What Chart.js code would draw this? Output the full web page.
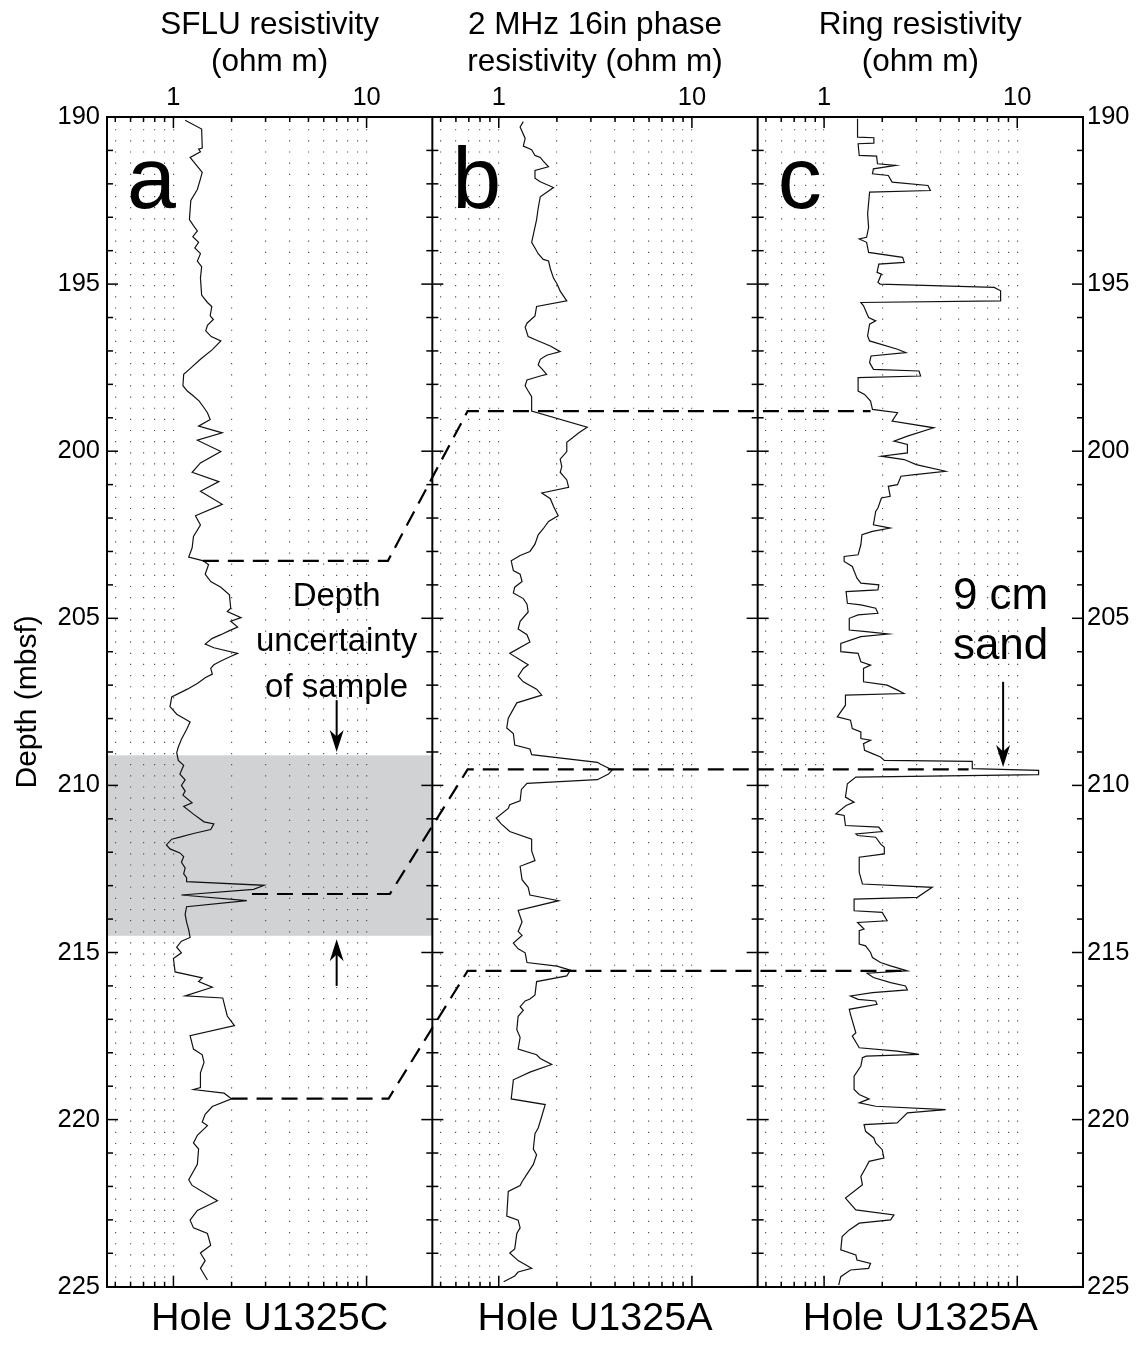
<!DOCTYPE html>
<html>
<head>
<meta charset="utf-8">
<script src="https://cdn.jsdelivr.net/npm/chart.js@4.4.1/dist/chart.umd.min.js"></script>
<style>
  html, body { margin: 0; padding: 0; background: #fff; }
  #wrap { position: relative; width: 1139px; height: 1346px; }
</style>
</head>
<body>
<div id="wrap"><canvas id="logChart" width="1139" height="1346"></canvas></div>
<script>
// Panel a: SFLU resistivity, Hole U1325C (depth mbsf / ohm m)
const aDepth = [190.10,190.36,190.93,190.96,191.04,191.21,191.66,191.85,192.17,192.50,193.07,193.25,193.41,193.58,193.75,193.92,194.09,194.31,194.48,194.82,
  195.33,195.55,195.67,195.95,196.06,196.23,196.40,196.57,196.70,196.96,197.25,197.53,197.70,198.04,198.20,198.35,198.50,198.70,198.85,199.05,
  199.25,199.45,199.67,200.01,200.35,200.63,200.91,201.20,201.59,201.93,202.21,202.55,202.89,203.17,203.28,203.40,203.68,203.90,204.07,204.30,
  204.70,204.80,204.98,205.09,205.26,205.37,205.49,205.60,205.77,205.88,206.05,206.16,206.28,206.39,206.50,206.67,206.78,206.95,207.12,207.35,
  207.64,207.87,207.99,208.10,208.33,208.62,208.85,209.02,209.25,209.40,209.66,209.83,210.00,210.17,210.29,210.52,210.63,210.86,211.09,211.15,
  211.32,211.44,211.55,211.61,211.78,211.90,212.02,212.13,212.30,212.47,212.65,212.76,212.88,212.99,213.11,213.28,213.45,213.63,213.86,214.09,
  214.32,214.55,214.66,214.84,215.01,215.18,215.58,215.76,215.87,216.04,216.30,216.36,216.90,217.19,217.49,217.89,218.06,218.29,218.60,219.04,
  219.10,219.21,219.38,219.61,219.84,220.07,220.18,220.47,220.70,220.88,221.34,221.80,221.97,222.43,222.72,223.01,223.24,223.41,223.76,223.99,
  224.22,224.45,224.80];
const aRes = [1.15,1.40,1.41,1.35,1.38,1.22,1.41,1.38,1.33,1.23,1.21,1.27,1.33,1.26,1.35,1.29,1.38,1.33,1.40,1.38,
  1.40,1.50,1.58,1.55,1.61,1.50,1.47,1.57,1.76,1.59,1.38,1.22,1.13,1.12,1.18,1.27,1.36,1.44,1.50,1.55,
  1.35,1.79,1.33,1.76,1.38,1.25,1.72,1.38,1.79,1.30,1.38,1.27,1.25,1.20,1.43,1.52,1.46,1.56,1.76,1.95,
  1.98,1.90,2.24,1.98,2.15,1.95,1.76,1.59,1.46,1.62,2.15,1.95,1.76,1.62,1.56,1.59,1.46,1.33,1.18,0.98,
  0.96,1.04,1.13,1.22,1.17,1.10,1.06,1.04,1.06,1.13,1.08,1.15,1.10,1.15,1.12,1.25,1.13,1.27,1.44,1.62,
  1.56,1.27,1.08,0.98,0.92,0.96,1.08,1.13,1.10,1.15,1.13,1.17,1.17,2.95,2.60,1.10,2.40,1.17,1.15,1.17,
  1.20,1.22,1.10,1.04,1.10,1.00,1.02,1.41,1.35,1.59,1.15,1.80,1.90,2.07,1.22,1.27,1.41,1.44,1.38,1.38,
  1.27,1.83,2.00,1.59,1.46,1.41,1.50,1.33,1.27,1.35,1.33,1.20,1.25,1.69,1.33,1.22,1.27,1.50,1.56,1.38,
  1.46,1.38,1.50];

// Panel b: 2 MHz 16in phase resistivity, Hole U1325A
const bDepth = [190.14,190.30,190.64,190.87,190.98,191.15,191.21,191.32,191.49,191.60,191.83,191.94,192.11,192.39,192.73,193.07,193.75,193.92,194.09,194.26,
  194.31,194.54,194.82,194.99,195.21,195.50,195.67,195.95,196.17,196.29,196.57,196.68,196.85,197.02,197.13,197.25,197.42,197.58,197.70,197.75,
  197.87,198.04,198.20,198.37,198.80,199.28,199.45,199.73,200.01,200.24,200.46,200.63,200.86,201.08,201.25,201.42,201.65,201.93,202.10,202.32,
  202.50,202.78,203.00,203.12,203.28,203.57,203.68,203.90,204.07,204.24,204.41,204.58,204.81,205.09,205.32,205.49,205.71,206.05,206.28,206.39,
  206.50,206.73,206.90,207.12,207.30,207.53,207.99,208.28,208.45,208.79,208.91,209.08,209.31,209.37,209.54,209.66,209.83,209.94,210.12,210.46,
  210.58,210.69,210.98,211.15,211.38,211.61,211.96,212.25,212.42,212.82,213.05,213.28,213.45,213.74,214.09,214.37,214.49,214.72,214.89,215.01,
  215.30,215.41,215.53,215.70,215.87,216.27,216.39,216.45,216.62,216.73,216.91,217.31,217.54,217.89,218.06,218.17,218.35,218.58,218.81,219.38,
  219.55,219.90,220.25,220.42,220.88,221.05,221.34,221.63,221.86,221.97,222.15,222.89,223.01,223.24,223.41,223.87,223.99,224.22,224.45,224.56,
  224.68,224.85];
const bRes = [1.34,1.29,1.37,1.34,1.48,1.54,1.64,1.70,1.81,1.54,1.54,1.64,1.92,1.64,1.60,1.57,1.48,1.54,1.60,1.70,
  1.81,1.85,1.92,2.00,2.08,2.25,1.57,1.54,1.40,1.37,1.42,1.57,1.85,2.08,1.77,1.64,1.60,1.70,1.77,1.64,
  1.40,1.37,1.42,1.48,1.48,2.87,2.60,2.25,2.25,2.08,2.12,2.08,2.25,2.30,1.67,1.85,1.92,2.03,1.81,1.70,
  1.60,1.54,1.45,1.29,1.16,1.19,1.29,1.32,1.21,1.19,1.34,1.40,1.42,1.29,1.26,1.40,1.45,1.14,1.32,1.42,
  1.34,1.26,1.34,1.57,1.67,1.24,1.12,1.10,1.19,1.21,1.45,1.48,3.24,3.37,3.87,3.70,3.24,1.40,1.31,1.29,
  1.14,1.12,0.97,1.03,1.14,1.48,1.48,1.54,1.29,1.32,1.42,1.45,2.04,1.26,1.32,1.26,1.32,1.19,1.26,1.37,
  1.40,2.00,2.35,2.25,1.57,1.54,1.45,1.37,1.29,1.34,1.26,1.24,1.29,1.26,1.57,1.64,1.88,1.45,1.19,1.16,
  1.74,1.67,1.60,1.54,1.51,1.57,1.51,1.40,1.32,1.29,1.12,1.10,1.26,1.29,1.24,1.21,1.14,1.26,1.48,1.26,
  1.21,1.06];

// Panel c: Ring resistivity, Hole U1325A
const cDepth = [190.05,190.60,190.62,190.78,190.80,191.15,191.17,191.40,191.45,191.55,191.70,191.75,191.95,192.05,192.20,192.25,192.90,193.30,193.60,193.65,
  193.75,194.05,194.20,194.35,194.40,194.65,194.70,194.95,195.00,195.10,195.20,195.50,195.55,195.65,196.00,196.10,196.20,196.55,196.70,196.95,
  197.05,197.15,197.35,197.55,197.60,197.75,197.80,198.20,198.30,198.50,198.75,198.85,199.10,199.30,199.55,199.70,199.80,200.05,200.15,200.25,
  200.40,200.60,200.70,200.75,201.00,201.05,201.35,201.40,201.70,201.80,202.20,202.30,202.40,202.50,202.80,203.10,203.15,203.30,203.45,203.80,
  203.95,204.00,204.15,204.20,204.55,204.60,204.70,204.85,204.90,205.00,205.35,205.40,205.47,205.55,205.75,206.00,206.05,206.30,206.40,206.50,
  206.90,207.00,207.15,207.25,207.30,207.60,207.95,208.05,208.30,208.40,208.60,208.65,208.75,208.95,209.05,209.15,209.25,209.28,209.50,209.55,
  209.68,209.75,209.95,210.35,210.50,210.60,210.85,210.90,211.20,211.25,211.38,211.45,211.50,211.55,211.75,211.85,212.05,212.15,212.60,212.95,
  213.05,213.35,213.40,213.75,213.80,214.05,214.10,214.30,214.35,214.75,214.80,215.00,215.15,215.30,215.40,215.55,215.62,215.75,215.90,216.00,
  216.12,216.20,216.30,216.40,216.45,216.55,216.70,216.85,217.40,217.50,217.85,217.95,218.05,218.10,218.15,218.40,218.70,219.10,219.25,219.38,
  219.50,219.60,219.70,219.80,220.10,220.15,220.35,220.55,220.70,220.90,221.15,221.25,221.45,221.70,221.95,222.35,222.70,222.85,223.00,223.10,
  223.30,223.50,223.90,224.05,224.20,224.30,224.45,224.50,224.70,224.95];
const cRes = [1.49,1.49,1.81,1.81,1.50,1.52,1.87,1.89,2.35,1.80,1.78,2.15,2.25,3.45,3.55,1.72,1.68,1.70,1.66,1.52,
  1.66,1.70,2.55,2.60,1.92,1.88,1.98,1.90,1.95,7.60,8.20,8.20,1.55,1.60,1.70,1.85,1.72,1.68,1.72,2.40,
  2.65,1.75,1.72,1.80,3.10,3.16,1.50,1.50,1.62,1.74,1.78,2.40,2.25,3.70,2.70,2.30,2.70,2.70,1.98,2.60,
  3.00,4.25,2.95,2.50,2.40,2.15,2.20,1.98,1.90,1.85,1.80,2.20,1.78,1.57,1.55,1.50,1.27,1.27,1.40,1.48,
  1.55,1.92,1.90,1.30,1.32,1.55,1.85,1.90,1.50,1.35,1.35,1.65,2.15,1.55,1.22,1.22,1.50,1.55,1.74,1.60,
  1.60,2.12,2.40,2.59,1.29,1.29,1.17,1.37,1.40,1.55,1.55,1.74,1.60,1.62,1.78,1.96,2.05,5.85,5.85,12.9,
  12.9,1.46,1.32,1.29,1.43,1.30,1.15,1.27,1.29,1.92,2.00,1.46,1.49,1.85,1.96,2.05,2.05,1.52,1.52,1.58,
  3.63,3.04,1.43,1.43,2.00,2.12,1.49,1.61,1.52,1.52,1.64,1.74,1.78,1.96,2.21,2.70,1.67,1.80,2.21,2.64,
  2.70,1.78,1.37,1.50,1.85,1.88,1.35,1.37,1.46,1.40,1.52,2.39,3.10,1.65,1.58,1.55,1.43,1.43,1.52,1.71,
  1.52,1.85,4.26,2.70,2.39,1.61,1.64,1.81,1.85,2.00,2.04,1.71,1.64,1.55,1.58,1.29,1.46,2.30,2.21,1.52,
  1.35,1.24,1.22,1.46,1.48,1.74,1.70,1.37,1.22,1.19];

const xMin = 0.453, xMax = 21.9;
const xGridValues = [0.5, 0.6, 0.7, 0.8, 0.9, 1, 2, 3, 4, 5, 6, 7, 8, 9, 10];
const xLabelValues = [1, 10];
const depthLabels = [190, 195, 200, 205, 210, 215, 220, 225];
const panelIds = ['a', 'b', 'c'];
const panelTitles = [['SFLU resistivity', '(ohm m)'], ['2 MHz 16in phase', 'resistivity (ohm m)'], ['Ring resistivity', '(ohm m)']];
const holeNames = ['Hole U1325C', 'Hole U1325A', 'Hole U1325A'];

// correlation tie lines: [panel, resistivity, depth]
const tieLines = [
  [['a', 1.42, 203.28], ['a', 12.9, 203.28], ['b', 0.69, 198.8], ['c', 1.74, 198.8]],
  [['a', 2.55, 213.25], ['a', 13.2, 213.25], ['b', 0.69, 209.52], ['c', 5.6, 209.52]],
  [['a', 2.0, 219.37], ['a', 13.0, 219.37], ['b', 0.69, 215.55], ['c', 2.6, 215.55]]
];
const sampleBand = [209.1, 214.5];
const arrows = [
  { panel: 'a', res: 7.0, from: 207.45, to: 209.0 },
  { panel: 'a', res: 7.0, from: 216.0, to: 214.6 },
  { panel: 'c', res: 8.45, from: 206.9, to: 209.45 }
];
const notes = [
  { panel: 'a', res: 7.0, depth: 204.37, text: 'Depth', size: 33 },
  { panel: 'a', res: 7.0, depth: 205.72, text: 'uncertainty', size: 33 },
  { panel: 'a', res: 7.0, depth: 207.07, text: 'of sample', size: 33 },
  { panel: 'c', res: 8.2, depth: 204.36, text: '9 cm', size: 44 },
  { panel: 'c', res: 8.2, depth: 205.85, text: 'sand', size: 44 }
];

const FONT = '"Liberation Sans", Arial, Helvetica, sans-serif';
Chart.defaults.font.family = FONT;
Chart.defaults.color = '#000';

function series(depths, values, axisId) {
  return {
    data: depths.map((d, i) => ({ x: values[i], y: d })),
    xAxisID: axisId,
    yAxisID: 'y',
    showLine: true,
    borderColor: '#111',
    borderWidth: 1.2,
    pointRadius: 0,
    tension: 0,
    fill: false
  };
}

// top boxes are laid out in reverse, so weight keeps a | b | c from left to right
function topAxis(i) {
  return {
    type: 'logarithmic',
    position: 'top',
    stack: 'panels',
    stackWeight: 1,
    weight: 3 - i,
    min: xMin,
    max: xMax,
    afterBuildTicks: s => { s.ticks = xGridValues.map(v => ({ value: v })); },
    afterFit: s => { s.height = 117; },
    ticks: {
      autoSkip: false, maxRotation: 0, padding: 4,
      font: { size: 25.5 },
      callback: v => xLabelValues.includes(v) ? String(v) : ''
    },
    grid: { drawTicks: false, color: '#555', lineWidth: 1.2 },
    border: { display: true, width: 2, color: '#000', dash: [1.2, 9.94] },
    title: {
      display: true, text: panelTitles[i],
      font: { size: 31.5, lineHeight: 1.2 },
      padding: { top: 6, bottom: 0 }
    }
  };
}

function bottomAxis(i) {
  return {
    type: 'logarithmic',
    position: 'bottom',
    stack: 'holes',
    stackWeight: 1,
    min: xMin,
    max: xMax,
    afterFit: s => { s.height = 59.3; },
    ticks: { display: false },
    grid: { display: false, drawTicks: false },
    border: { display: true, width: 2, color: '#000' },
    title: { display: true, text: holeNames[i], font: { size: 39.5, lineHeight: 1.2 }, padding: { top: 0, bottom: 3 } }
  };
}

function depthAxis(pos) {
  return {
    type: 'linear',
    position: pos,
    reverse: true,
    min: 190,
    max: 225,
    afterBuildTicks: s => { s.ticks = depthLabels.map(v => ({ value: v })); },
    afterFit: s => { s.width = pos === 'left' ? 107 : 56; },
    ticks: { autoSkip: false, padding: pos === 'left' ? 7 : 4, font: { size: 25.5 } },
    grid: { display: false, drawTicks: false },
    border: { display: true, width: 2, color: '#000' },
    title: { display: pos === 'left', text: 'Depth (mbsf)', font: { size: 30, lineHeight: 1.2 }, padding: { top: 10, bottom: 0 } }
  };
}

function line(ctx, x1, y1, x2, y2) {
  ctx.beginPath(); ctx.moveTo(x1, y1); ctx.lineTo(x2, y2); ctx.stroke();
}

const figureParts = {
  id: 'figureParts',
  beforeDraw(chart) {
    const { ctx, scales } = chart;
    ctx.save();
    ctx.fillStyle = '#fff';
    ctx.fillRect(0, 0, chart.width, chart.height);
    const y0 = scales.y.getPixelForValue(sampleBand[0]);
    const y1 = scales.y.getPixelForValue(sampleBand[1]);
    ctx.fillStyle = '#d1d2d4';
    ctx.fillRect(scales.xa.left, y0, scales.xa.right - scales.xa.left, y1 - y0);
    ctx.restore();
  },
  afterDraw(chart) {
    const { ctx, chartArea: area, scales } = chart;
    const y = scales.y;
    const px = (p, v) => scales['x' + p].getPixelForValue(v);
    ctx.save();
    ctx.strokeStyle = '#000';
    ctx.fillStyle = '#000';

    // panel separators
    ctx.lineWidth = 2;
    ['b', 'c'].forEach(p => line(ctx, scales['x' + p].left, area.top, scales['x' + p].left, area.bottom));

    // inward depth ticks on every panel edge
    ctx.lineWidth = 1.5;
    const edges = [scales.xa.left, scales.xb.left, scales.xc.left, scales.xc.right];
    for (let d = 190; d <= 225; d++) {
      const yy = y.getPixelForValue(d);
      const len = d % 5 === 0 ? 11 : 6;
      edges.forEach((x, i) => {
        if (i < 3) line(ctx, x, yy, x + len, yy);
        if (i > 0) line(ctx, x - len, yy, x, yy);
      });
    }
    // inward resistivity ticks, top and bottom
    panelIds.forEach(p => {
      xGridValues.forEach(v => {
        const x = px(p, v);
        const len = xLabelValues.includes(v) ? 11 : 5;
        line(ctx, x, area.top, x, area.top + len);
        line(ctx, x, area.bottom - len, x, area.bottom);
      });
    });

    // panel letters
    ctx.font = '88px ' + FONT;
    ctx.textAlign = 'left';
    ctx.textBaseline = 'alphabetic';
    panelIds.forEach(p => ctx.fillText(p, scales['x' + p].left + 20, area.top + 91));

    // tie lines
    ctx.lineWidth = 2.2;
    ctx.setLineDash([16, 9]);
    tieLines.forEach(pts => {
      ctx.beginPath();
      pts.forEach(([p, v, d], i) => {
        const xx = px(p, v), yy = y.getPixelForValue(d);
        if (i === 0) ctx.moveTo(xx, yy); else ctx.lineTo(xx, yy);
      });
      ctx.stroke();
    });
    ctx.setLineDash([]);

    // arrows
    ctx.lineWidth = 2;
    arrows.forEach(a => {
      const xx = px(a.panel, a.res);
      const yFrom = y.getPixelForValue(a.from), yTo = y.getPixelForValue(a.to);
      const dir = Math.sign(yTo - yFrom);
      const head = 22, half = 7;
      line(ctx, xx, yFrom, xx, yTo - dir * head * 0.6);
      ctx.beginPath();
      ctx.moveTo(xx, yTo);
      ctx.lineTo(xx - half, yTo - dir * head);
      ctx.lineTo(xx, yTo - dir * head * 0.7);
      ctx.lineTo(xx + half, yTo - dir * head);
      ctx.closePath();
      ctx.fill();
    });

    // annotation text
    ctx.textAlign = 'center';
    ctx.textBaseline = 'middle';
    notes.forEach(n => {
      ctx.font = n.size + 'px ' + FONT;
      ctx.fillText(n.text, px(n.panel, n.res), y.getPixelForValue(n.depth));
    });
    ctx.restore();
  }
};

const scales = { y: depthAxis('left'), y2: depthAxis('right') };
panelIds.forEach((p, i) => {
  scales['x' + p] = topAxis(i);
  scales['x' + p + 'Hole'] = bottomAxis(i);
});

new Chart(document.getElementById('logChart'), {
  type: 'scatter',
  data: {
    datasets: [
      series(aDepth, aRes, 'xa'),
      series(bDepth, bRes, 'xb'),
      series(cDepth, cRes, 'xc')
    ]
  },
  options: {
    responsive: false,
    animation: false,
    devicePixelRatio: 1,
    events: [],
    layout: { padding: 0 },
    plugins: { legend: { display: false }, tooltip: { enabled: false } },
    scales
  },
  plugins: [figureParts]
});
</script>
</body>
</html>
